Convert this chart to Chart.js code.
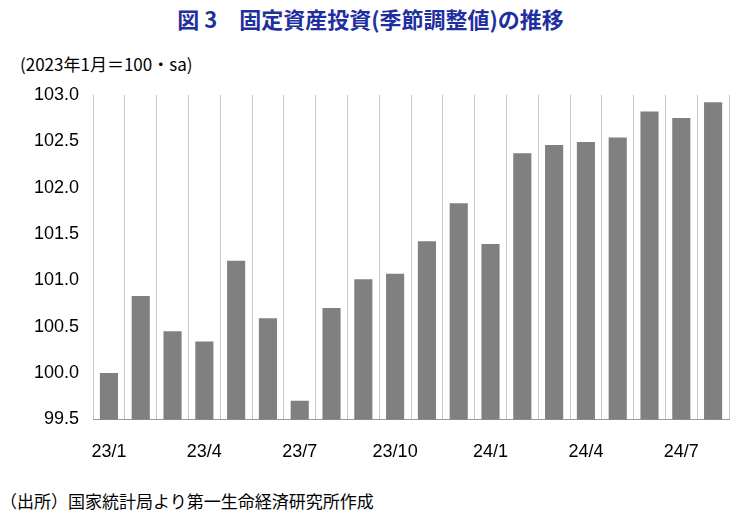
<!DOCTYPE html>
<html><head><meta charset="utf-8">
<script src="https://cdn.jsdelivr.net/npm/chart.js@4"></script>
<style>
body{margin:0;width:741px;height:523px;background:#fff;position:relative;font-family:"Noto Sans CJK JP",sans-serif;overflow:hidden}
#t{position:absolute;top:2px;left:0;width:741px;text-align:center;font-size:22px;font-weight:bold;color:#1f2fa0}
#u{position:absolute;top:51px;left:20px;font-size:17px;color:#000}
#s{position:absolute;top:488px;left:0px;font-size:17px;color:#000}
#c{position:absolute;left:0;top:70px}
</style></head><body>
<div id="t">図 3　固定資産投資(季節調整値)の推移</div>
<div id="u">(2023年1月＝100・sa)</div>
<div id="s">（出所）国家統計局より第一生命経済研究所作成</div>
<canvas id="c" width="741" height="415"></canvas>
<script>
const categories=["23/1","23/2","23/3","23/4","23/5","23/6","23/7","23/8","23/9","23/10","23/11","23/12","24/1","24/2","24/3","24/4","24/5","24/6","24/7","24/8"];
const values=[100.0,100.83,100.45,100.34,101.21,100.59,99.70,100.70,101.01,101.07,101.42,101.83,101.39,102.37,102.46,102.49,102.54,102.82,102.75,102.92];
const shownTicks=["23/1","23/4","23/7","23/10","24/1","24/4","24/7"];
new Chart(document.getElementById('c'),{type:'bar',
data:{labels:categories,datasets:[{data:values,backgroundColor:'#808080',categoryPercentage:0.57,barPercentage:1}]},
options:{responsive:false,animation:false,layout:{padding:{left:20,right:12,top:22,bottom:0}},
plugins:{legend:{display:false},tooltip:{enabled:false}},
scales:{x:{grid:{display:true,offset:true,color:'#c8c8c8',drawTicks:false},border:{color:'#999'},
ticks:{autoSkip:false,maxRotation:0,padding:22,color:'#000',font:{size:18,family:'Liberation Sans'},
callback:function(v){const l=categories[v];return shownTicks.includes(l)?l:'';}}},
y:{min:99.5,max:103.0,grid:{display:false,drawTicks:false},border:{display:false},
ticks:{stepSize:0.5,padding:14,color:'#000',font:{size:18,family:'Liberation Sans'},callback:v=>v.toFixed(1)}}}}});
</script></body></html>
